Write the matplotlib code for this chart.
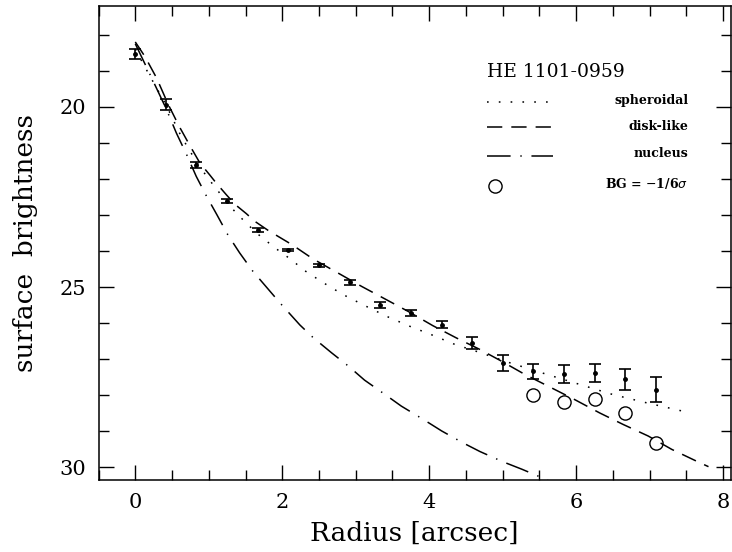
import numpy as np
import matplotlib
matplotlib.use("Agg")
import matplotlib.pyplot as plt
from matplotlib.lines import Line2D

# measured profile of HE 1101-0959
radius = [0.0, 0.417, 0.833, 1.25, 1.667, 2.083, 2.5, 2.917, 3.333, 3.75,
          4.167, 4.583, 5.0, 5.417, 5.833, 6.25, 6.667, 7.083]
mu = [18.53, 19.94, 21.61, 22.62, 23.41, 23.96, 24.40, 24.87, 25.50, 25.71,
      26.04, 26.55, 27.10, 27.33, 27.42, 27.38, 27.56, 27.84]
mu_err = [0.13, 0.15, 0.08, 0.06, 0.05, 0.03, 0.05, 0.06, 0.08, 0.08,
          0.09, 0.16, 0.23, 0.21, 0.25, 0.25, 0.28, 0.36]

# outer points with background lowered by 1/6 sigma
bg_radius = [5.417, 5.833, 6.25, 6.667, 7.083]
bg_mu = [27.98, 28.19, 28.09, 28.49, 29.32]

# model components
sph_r = [0.0, 0.2, 0.42, 0.62, 0.83, 0.99, 1.29, 1.42, 1.65, 1.90, 2.15, 2.28,
         2.56, 2.83, 3.12, 3.42, 3.74, 4.03, 4.35, 4.64, 5.10, 5.60, 6.05,
         6.50, 6.96, 7.45]
sph_mu = [18.40, 19.15, 19.95, 20.80, 21.52, 21.98, 22.76, 23.04, 23.50, 23.91,
          24.28, 24.51, 24.88, 25.21, 25.51, 25.81, 26.09, 26.32, 26.59, 26.78,
          27.10, 27.42, 27.70, 27.98, 28.21, 28.44]

disk_r = [0.0, 0.13, 0.29, 0.45, 0.60, 0.75, 0.88, 1.01, 1.10, 1.24, 1.36, 1.51,
          1.63, 1.81, 2.13, 2.42, 2.76, 3.08, 3.40, 3.71, 4.05, 4.37, 4.69,
          4.98, 5.30, 5.66, 5.98, 6.32, 6.64, 6.98, 7.30, 7.64, 7.80]
disk_mu = [18.20, 18.60, 19.20, 19.94, 20.55, 21.10, 21.56, 21.88, 22.11, 22.44,
           22.71, 22.96, 23.18, 23.43, 23.82, 24.22, 24.61, 24.98, 25.33, 25.67,
           26.07, 26.41, 26.73, 27.05, 27.42, 27.79, 28.12, 28.49, 28.81, 29.13,
           29.50, 29.83, 29.98]

nuc_r = [0.0, 0.2, 0.42, 0.56, 0.70, 0.83, 0.97, 1.11, 1.26, 1.42, 1.60, 1.97,
         2.24, 2.42, 2.67, 2.90, 3.12, 3.40, 3.62, 3.92, 4.17, 4.46, 4.69, 5.01,
         5.26, 5.55, 5.65]
nuc_mu = [18.25, 19.10, 20.05, 20.73, 21.33, 21.93, 22.48, 22.99, 23.55, 24.05,
          24.56, 25.44, 26.05, 26.40, 26.82, 27.19, 27.58, 27.98, 28.30, 28.67,
          28.99, 29.32, 29.56, 29.85, 30.05, 30.30, 30.40]

plt.rcParams['font.family'] = ['DejaVu Serif']
plt.rcParams['lines.scale_dashes'] = False

DOT = (0, (1.2, 7.3))
DASH = (0, (11, 6.5))
DASHDOT = (0, (17, 7, 1, 7))

fig = plt.figure(figsize=(7.32, 5.52), dpi=100)
ax = fig.add_axes([0.1346, 0.1304, 0.8634, 0.8596])

lw = 1.1
ax.plot(sph_r, sph_mu, color='black', lw=lw, linestyle=DOT)
ax.plot(disk_r, disk_mu, color='black', lw=lw, linestyle=DASH)
ax.plot(nuc_r, nuc_mu, color='black', lw=lw, linestyle=DASHDOT)

ax.errorbar(radius, mu, yerr=mu_err, fmt='o', ms=2.5, color='black',
            elinewidth=1.2, capsize=4, capthick=1.2)
ax.plot(bg_radius, bg_mu, 'o', ms=9.5, mfc='none', mec='black', mew=1.0)

ax.set_xlim(-0.5, 8.1)
ax.set_ylim(30.35, 17.19)

ax.set_xticks([0, 2, 4, 6, 8])
ax.set_xticks(np.arange(-0.5, 8.1, 0.5), minor=True)
ax.set_yticks([20, 25, 30])
ax.set_yticks(np.arange(18, 31, 1), minor=True)
ax.tick_params(which='both', direction='in', top=True, right=True,
               width=1.0, labelsize=15, pad=9)
ax.tick_params(which='major', length=11)
ax.tick_params(which='minor', length=7)
for s in ax.spines.values():
    s.set_linewidth(1.1)

ax.set_xlabel('Radius [arcsec]', fontsize=19, labelpad=7)
ax.set_ylabel('surface  brightness', fontsize=19, labelpad=15)

# key
tr = ax.transAxes
ax.text(0.615, 0.860, 'HE 1101-0959', transform=tr, fontsize=13.5,
        va='center', ha='left')
keys = [(DOT, 'spheroidal', 0.797, 0.799),
        (DASH, 'disk-like', 0.744, 0.746),
        (DASHDOT, 'nucleus', 0.683, 0.689)]
for ls, label, yl, yt in keys:
    ax.add_line(Line2D([0.615, 0.719], [yl, yl], transform=tr, color='black',
                       lw=lw, linestyle=ls))
    ax.text(0.933, yt, label, transform=tr, fontsize=9, fontweight='bold',
            ha='right', va='center')
ax.plot([0.627], [0.620], 'o', transform=tr, ms=9.5, mfc='none', mec='black',
        mew=1.0)
ax.text(0.933, 0.624, r'BG = $-$1/6$\sigma$', transform=tr, fontsize=9,
        fontweight='bold', ha='right', va='center')

fig.savefig('out.png', dpi=100)
